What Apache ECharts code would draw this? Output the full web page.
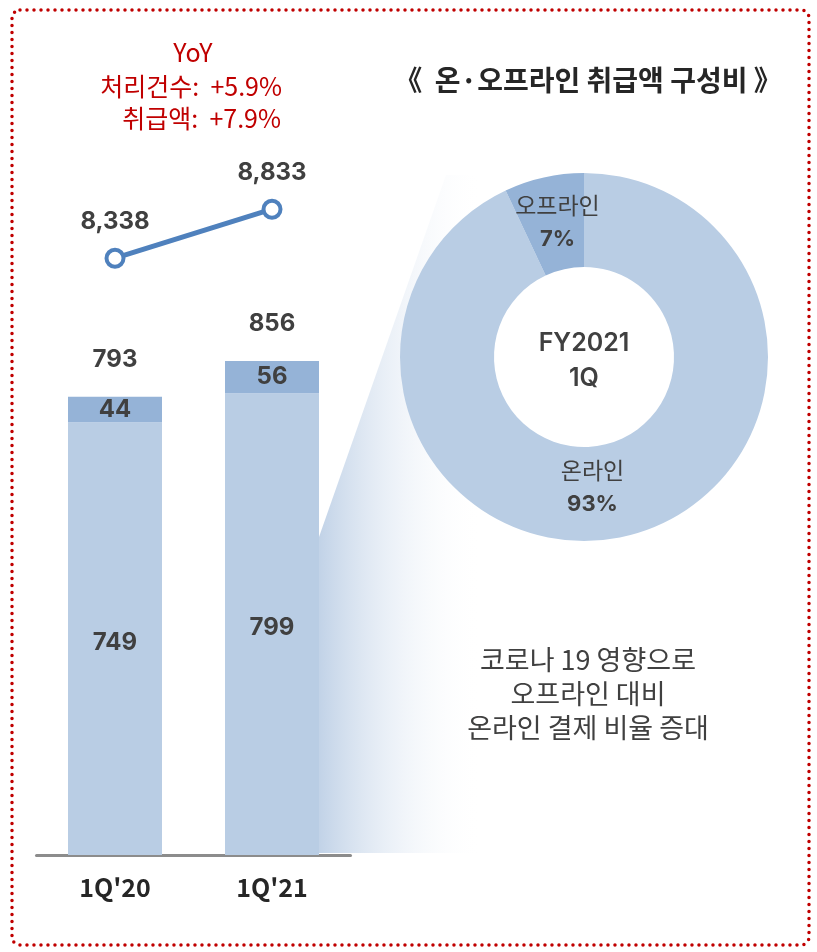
<!DOCTYPE html>
<html>
<head>
<meta charset="utf-8">
<script src="https://cdn.jsdelivr.net/npm/echarts@6/dist/echarts.min.js"></script>
<style>
  html, body { margin: 0; padding: 0; background: #fff; }
  #chart { width: 817px; height: 952px; }
</style>
</head>
<body>
<div id="chart"></div>
<script>
// Quarterly figures
const quarters = ["1Q'20", "1Q'21"];
const onlineAmt = [749, 799];      // 온라인 취급액
const offlineAmt = [44, 56];       // 오프라인 취급액
const totalAmt = [793, 856];       // 합계 취급액
const txCount = [8338, 8833];      // 처리건수

// FY2021 1Q composition
const mixNames = ['온라인', '오프라인'];
const mixShare = [93, 7];

const FONT = "'Noto Sans CJK KR', 'Noto Sans', sans-serif";
const NUM_FONT = "Inter, 'Noto Sans CJK KR', sans-serif";
const DARK = '#404040';
const LIGHT_BLUE = '#b9cde4';
const MID_BLUE = '#95b3d7';
const NUM_WEIGHT = 'bold';

const chart = echarts.init(document.getElementById('chart'), null, { renderer: 'canvas' });

const option = {
  animation: false,
  backgroundColor: '#ffffff',
  textStyle: { fontFamily: FONT },
  grid: [
    { left: 36.5, width: 314, top: 46, height: 809 },
    { left: 36.5, width: 314, top: 163, height: 148.5 }
  ],
  xAxis: [
    {
      type: 'category', gridIndex: 0, data: quarters,
      axisLine: { lineStyle: { color: '#8c8c8c', width: 3 } },
      axisTick: { show: false },
      axisLabel: { fontFamily: FONT, fontSize: 25, fontWeight: 'bold', color: '#262626', margin: 20 }
    },
    { type: 'category', gridIndex: 1, data: quarters, show: false }
  ],
  yAxis: [
    { type: 'value', gridIndex: 0, min: 0, max: 1400, show: false, splitLine: { show: false } },
    { type: 'value', gridIndex: 1, min: 7800, max: 9300, show: false, splitLine: { show: false } }
  ],
  graphic: [
    // connector wedge from the 1Q'21 bar toward the donut
    {
      type: 'polygon', z: -10, silent: true,
      shape: { points: [[446, 175], [319, 537], [319, 853], [482, 853], [482, 175]] },
      style: {
        fill: new echarts.graphic.LinearGradient(0, 0, 1, 0, [
          { offset: 0, color: 'rgba(190,208,230,0.95)' },
          { offset: 1, color: 'rgba(255,255,255,0)' }
        ])
      }
    },
    // dotted frame
    {
      type: 'rect', z: 100, silent: true,
      shape: { x: 12, y: 10, width: 797, height: 935, r: 8 },
      style: { fill: 'none', stroke: '#c00000', lineWidth: 3.5, lineDash: [0, 7], lineCap: 'round' }
    },
    // YoY notes
    {
      type: 'text', z: 50, x: 193, y: 52,
      style: { text: 'YoY', font: '25px ' + FONT, fill: '#c00000', textAlign: 'center', textVerticalAlign: 'middle' }
    },
    {
      type: 'text', z: 50, x: 282, y: 86,
      style: { text: '처리건수:  +5.9%', font: '25px ' + FONT, fill: '#c00000', textAlign: 'right', textVerticalAlign: 'middle' }
    },
    {
      type: 'text', z: 50, x: 281, y: 118,
      style: { text: '취급액:  +7.9%', font: '25px ' + FONT, fill: '#c00000', textAlign: 'right', textVerticalAlign: 'middle' }
    },
    // donut heading
    {
      type: 'text', z: 50, x: 588, y: 80,
      style: { text: '《  온·오프라인 취급액 구성비 》', font: 'bold 28px ' + FONT, fill: '#262626', textAlign: 'center', textVerticalAlign: 'middle' }
    },
    // donut centre
    {
      type: 'text', z: 50, x: 584, y: 361,
      style: { text: 'FY2021\n1Q', font: '600 25px ' + NUM_FONT, fill: DARK, textAlign: 'center', textVerticalAlign: 'middle', lineHeight: 35 }
    },
    // comment below the donut
    {
      type: 'text', z: 50, x: 588, y: 694,
      style: {
        text: '코로나 19 영향으로\n오프라인 대비\n온라인 결제 비율 증대',
        font: '27px ' + FONT, fill: DARK, textAlign: 'center', textVerticalAlign: 'middle', lineHeight: 34
      }
    }
  ],
  series: [
    {
      name: '온라인', type: 'bar', stack: 'amt', xAxisIndex: 0, yAxisIndex: 0,
      data: onlineAmt, barWidth: 94,
      itemStyle: { color: LIGHT_BLUE },
      label: { show: true, position: 'inside', fontFamily: NUM_FONT, fontSize: 24, fontWeight: NUM_WEIGHT, color: DARK, offset: [0, 4] },
      emphasis: { disabled: true }
    },
    {
      name: '오프라인', type: 'bar', stack: 'amt', xAxisIndex: 0, yAxisIndex: 0,
      data: offlineAmt, barWidth: 94,
      itemStyle: { color: MID_BLUE },
      label: { show: true, position: 'inside', fontFamily: NUM_FONT, fontSize: 24, fontWeight: NUM_WEIGHT, color: DARK },
      emphasis: { disabled: true }
    },
    {
      name: '합계', type: 'scatter', xAxisIndex: 0, yAxisIndex: 0,
      data: totalAmt, symbolSize: 0,
      itemStyle: { opacity: 1 },
      label: { show: true, position: 'top', distance: 25, fontFamily: NUM_FONT, fontSize: 24, fontWeight: NUM_WEIGHT, color: DARK },
      emphasis: { disabled: true }
    },
    {
      name: '처리건수', type: 'line', xAxisIndex: 1, yAxisIndex: 1,
      data: txCount,
      symbol: 'circle', symbolSize: 17,
      lineStyle: { color: '#4f81bd', width: 5 },
      itemStyle: { color: '#ffffff', borderColor: '#4f81bd', borderWidth: 4 },
      label: {
        show: true, position: 'top', distance: 14, fontFamily: NUM_FONT, fontSize: 24, fontWeight: NUM_WEIGHT, color: DARK,
        formatter: p => p.value.toLocaleString('en-US')
      },
      emphasis: { disabled: true }
    },
    {
      name: '구성비', type: 'pie',
      center: [584, 357], radius: [90, 184],
      startAngle: 90, clockwise: true,
      labelLine: { show: false },
      emphasis: { disabled: true },
      data: mixNames.map((n, i) => ({
        name: n, value: mixShare[i],
        itemStyle: { color: i === 0 ? LIGHT_BLUE : MID_BLUE },
        label: { offset: i === 0 ? [-22, -6] : [4, 2] }
      })),
      label: {
        show: true, position: 'inside',
        formatter: '{n|{b}}\n{p|{c}%}',
        rich: {
          n: { fontFamily: FONT, fontSize: 23, color: DARK, lineHeight: 34, align: 'center' },
          p: { fontFamily: NUM_FONT, fontSize: 22, fontWeight: NUM_WEIGHT, color: DARK, lineHeight: 34, align: 'center' }
        }
      }
    }
  ]
};

chart.setOption(option);
</script>
</body>
</html>
